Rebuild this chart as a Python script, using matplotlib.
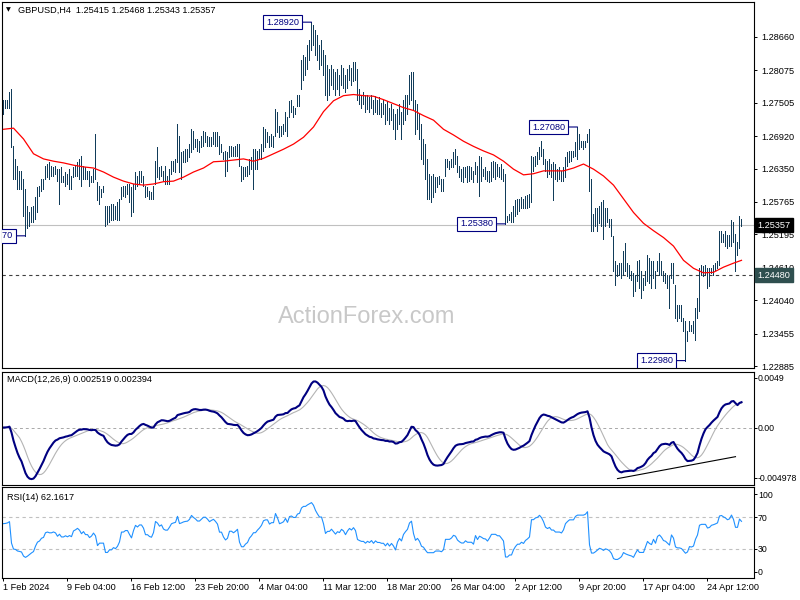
import numpy as np
import pandas as pd
import matplotlib
matplotlib.use("Agg")
import matplotlib.pyplot as plt
from matplotlib.transforms import blended_transform_factory

# ---------------- data (GBPUSD H4) ----------------
highs = [
    1.2756, 1.2756, 1.2756, 1.2769, 1.2774, 1.2674, 1.2652, 1.2640, 1.2631, 1.2631,
    1.2617, 1.2600, 1.2570, 1.2559, 1.2568, 1.2570, 1.2586, 1.2603, 1.2605, 1.2617,
    1.2617, 1.2640, 1.2643, 1.2647, 1.2640, 1.2638, 1.2640, 1.2634, 1.2634, 1.2638,
    1.2622, 1.2629, 1.2626, 1.2634, 1.2622, 1.2638, 1.2640, 1.2647, 1.2652, 1.2657,
    1.2640, 1.2638, 1.2631, 1.2631, 1.2622, 1.2634, 1.2695, 1.2612, 1.2605, 1.2600,
    1.2605, 1.2570, 1.2570, 1.2570, 1.2573, 1.2573, 1.2570, 1.2577, 1.2582, 1.2603,
    1.2605, 1.2605, 1.2608, 1.2608, 1.2603, 1.2608, 1.2629, 1.2622, 1.2631, 1.2631,
    1.2622, 1.2605, 1.2603, 1.2596, 1.2594, 1.2605, 1.2648, 1.2673, 1.2638, 1.2640,
    1.2631, 1.2640, 1.2622, 1.2634, 1.2648, 1.2648, 1.2652, 1.2713, 1.2692, 1.2664,
    1.2666, 1.2669, 1.2669, 1.2678, 1.2704, 1.2701, 1.2687, 1.2687, 1.2683, 1.2692,
    1.2701, 1.2699, 1.2692, 1.2690, 1.2690, 1.2699, 1.2699, 1.2699, 1.2692, 1.2678,
    1.2664, 1.2666, 1.2664, 1.2674, 1.2674, 1.2673, 1.2674, 1.2678, 1.2678, 1.2640,
    1.2638, 1.2638, 1.2640, 1.2652, 1.2655, 1.2669, 1.2669, 1.2666, 1.2669, 1.2678,
    1.2708, 1.2704, 1.2699, 1.2692, 1.2695, 1.2692, 1.2739, 1.2735, 1.2709, 1.2709,
    1.2713, 1.2734, 1.2725, 1.2753, 1.2756, 1.2744, 1.2742, 1.2765, 1.2765, 1.2826,
    1.2835, 1.2830, 1.2852, 1.2861, 1.2892, 1.2887, 1.2878, 1.2870, 1.2852, 1.2861,
    1.2843, 1.2835, 1.2817, 1.2809, 1.2817, 1.2809, 1.2805, 1.2809, 1.2800, 1.2817,
    1.2812, 1.2800, 1.2809, 1.2817, 1.2812, 1.2822, 1.2822, 1.2809, 1.2774, 1.2765,
    1.2770, 1.2765, 1.2765, 1.2760, 1.2765, 1.2756, 1.2762, 1.2756, 1.2760, 1.2751,
    1.2756, 1.2748, 1.2753, 1.2742, 1.2748, 1.2739, 1.2730, 1.2739, 1.2748, 1.2735,
    1.2756, 1.2765, 1.2765, 1.2800, 1.2805, 1.2805, 1.2756, 1.2748, 1.2730, 1.2713,
    1.2687, 1.2678, 1.2652, 1.2626,
    1.2622, 1.2626, 1.2620, 1.2620, 1.2622, 1.2617, 1.2617, 1.2652, 1.2652, 1.2648,
    1.2652, 1.2664, 1.2669, 1.2657, 1.2640, 1.2634, 1.2638, 1.2638, 1.2640, 1.2640,
    1.2638, 1.2631, 1.2647, 1.2640, 1.2657, 1.2655, 1.2634, 1.2638, 1.2631, 1.2631,
    1.2647, 1.2648, 1.2647, 1.2643, 1.2638, 1.2643, 1.2634, 1.2626, 1.2552, 1.2556,
    1.2559, 1.2570, 1.2579, 1.2582, 1.2582, 1.2586, 1.2582, 1.2587, 1.2589, 1.2591,
    1.2657, 1.2655, 1.2657, 1.2664, 1.2673, 1.2683, 1.2669, 1.2652, 1.2648, 1.2652,
    1.2643, 1.2647, 1.2643, 1.2634, 1.2638, 1.2631, 1.2638, 1.2655, 1.2664, 1.2666,
    1.2666, 1.2666, 1.2681, 1.2708, 1.2695, 1.2683, 1.2683, 1.2683, 1.2695, 1.2705,
    1.2617, 1.2556, 1.2565, 1.2565, 1.2570, 1.2577, 1.2579, 1.2565, 1.2565, 1.2547,
    1.2547, 1.2516, 1.2472, 1.2465, 1.2469, 1.2469, 1.2490, 1.2504, 1.2469, 1.2465,
    1.2455, 1.2451, 1.2448, 1.2472, 1.2474, 1.2455, 1.2443, 1.2455, 1.2483, 1.2478,
    1.2472, 1.2472, 1.2455, 1.2472, 1.2486, 1.2472, 1.2455, 1.2451, 1.2448, 1.2446,
    1.2469, 1.2469, 1.2431, 1.2396, 1.2396, 1.2396, 1.2373, 1.2368, 1.2350, 1.2368,
    1.2361, 1.2368, 1.2390, 1.2408, 1.2460, 1.2465, 1.2464, 1.2465, 1.2460, 1.2460,
    1.2460, 1.2465, 1.2469, 1.2472, 1.2526, 1.2525, 1.2521, 1.2525, 1.2518, 1.2518,
    1.2544, 1.2542, 1.2521, 1.2507, 1.2551, 1.25468,
]
lows = [
    1.2730, 1.2742, 1.2742, 1.2742, 1.2673, 1.2617, 1.2617, 1.2600, 1.2600, 1.2600,
    1.2552, 1.2517, 1.2530, 1.2535, 1.2542, 1.2542, 1.2547, 1.2559, 1.2587, 1.2596,
    1.2600, 1.2617, 1.2620, 1.2617, 1.2622, 1.2622, 1.2626, 1.2613, 1.2573, 1.2612,
    1.2612, 1.2605, 1.2608, 1.2600, 1.2600, 1.2620, 1.2622, 1.2622, 1.2617, 1.2605,
    1.2617, 1.2617, 1.2617, 1.2605, 1.2612, 1.2612, 1.2617, 1.2579, 1.2573, 1.2586,
    1.2594, 1.2535, 1.2537, 1.2542, 1.2544, 1.2544, 1.2547, 1.2544, 1.2544, 1.2582,
    1.2587, 1.2586, 1.2591, 1.2577, 1.2552, 1.2559, 1.2600, 1.2605, 1.2608, 1.2612,
    1.2605, 1.2586, 1.2587, 1.2582, 1.2582, 1.2582, 1.2608, 1.2620, 1.2617, 1.2622,
    1.2613, 1.2608, 1.2608, 1.2608, 1.2626, 1.2631, 1.2629, 1.2647, 1.2629, 1.2617,
    1.2647, 1.2647, 1.2648, 1.2655, 1.2664, 1.2669, 1.2673, 1.2666, 1.2664, 1.2673,
    1.2674, 1.2681, 1.2674, 1.2674, 1.2674, 1.2678, 1.2674, 1.2674, 1.2661, 1.2664,
    1.2652, 1.2622, 1.2631, 1.2655, 1.2657, 1.2657, 1.2657, 1.2657, 1.2640, 1.2613,
    1.2617, 1.2622, 1.2622, 1.2626, 1.2634, 1.2600, 1.2634, 1.2634, 1.2652, 1.2652,
    1.2666, 1.2673, 1.2681, 1.2673, 1.2674, 1.2673, 1.2692, 1.2699, 1.2690, 1.2692,
    1.2695, 1.2701, 1.2692, 1.2725, 1.2734, 1.2725, 1.2730, 1.2744, 1.2744, 1.2774,
    1.2791, 1.2800, 1.2809, 1.2826, 1.2843, 1.2852, 1.2835, 1.2826, 1.2809, 1.2817,
    1.2800, 1.2765, 1.2756, 1.2765, 1.2782, 1.2774, 1.2765, 1.2774, 1.2765, 1.2782,
    1.2777, 1.2770, 1.2777, 1.2791, 1.2782, 1.2788, 1.2791, 1.2756, 1.2748, 1.2742,
    1.2748, 1.2735, 1.2739, 1.2735, 1.2742, 1.2730, 1.2735, 1.2730, 1.2730, 1.2725,
    1.2730, 1.2713, 1.2721, 1.2713, 1.2721, 1.2704, 1.2687, 1.2704, 1.2713, 1.2687,
    1.2713, 1.2721, 1.2730, 1.2748, 1.2756, 1.2739, 1.2695, 1.2704, 1.2687, 1.2652,
    1.2643, 1.2617, 1.2582, 1.2582,
    1.2577, 1.2586, 1.2594, 1.2603, 1.2608, 1.2596, 1.2596, 1.2622, 1.2638, 1.2634,
    1.2638, 1.2638, 1.2643, 1.2629, 1.2620, 1.2613, 1.2612, 1.2620, 1.2612, 1.2613,
    1.2617, 1.2612, 1.2626, 1.2612, 1.2587, 1.2613, 1.2622, 1.2617, 1.2613, 1.2612,
    1.2613, 1.2620, 1.2617, 1.2622, 1.2620, 1.2617, 1.2613, 1.2538, 1.2542, 1.2544,
    1.2542, 1.2542, 1.2552, 1.2556, 1.2561, 1.2565, 1.2565, 1.2565, 1.2565, 1.2568,
    1.2577, 1.2631, 1.2640, 1.2643, 1.2652, 1.2657, 1.2643, 1.2631, 1.2620, 1.2626,
    1.2620, 1.2579, 1.2617, 1.2613, 1.2617, 1.2613, 1.2613, 1.2620, 1.2640, 1.2647,
    1.2648, 1.2655, 1.2657, 1.2652, 1.2669, 1.2673, 1.2669, 1.2673, 1.2681, 1.2596,
    1.2525, 1.2525, 1.2535, 1.2526, 1.2539, 1.2535, 1.2512, 1.2535, 1.2542, 1.2533,
    1.2516, 1.2455, 1.2431, 1.2446, 1.2448, 1.2443, 1.2448, 1.2455, 1.2446, 1.2443,
    1.2439, 1.2411, 1.2420, 1.2438, 1.2425, 1.2408, 1.2422, 1.2431, 1.2438, 1.2434,
    1.2425, 1.2443, 1.2425, 1.2455, 1.2448, 1.2448, 1.2438, 1.2434, 1.2425, 1.2390,
    1.2443, 1.2434, 1.2373, 1.2368, 1.2373, 1.2368, 1.2350, 1.2298, 1.2333, 1.2350,
    1.2350, 1.2347, 1.2335, 1.2373, 1.2385, 1.2448, 1.2446, 1.2448, 1.2425, 1.2429,
    1.2451, 1.2448, 1.2457, 1.2460, 1.2465, 1.2507, 1.2507, 1.2500, 1.2495, 1.2499,
    1.2500, 1.2507, 1.2455, 1.2483, 1.2495, 1.25343,
]
closes = [
    1.2748, 1.2749, 1.2751, 1.2756, 1.2678, 1.2634, 1.2631, 1.2617, 1.2613, 1.2608,
    1.2565, 1.2547, 1.2551, 1.2556, 1.2561, 1.2565, 1.2582, 1.2596, 1.2600, 1.2610,
    1.2613, 1.2631, 1.2634, 1.2631, 1.2631, 1.2634, 1.2631, 1.2620, 1.2626, 1.2617,
    1.2617, 1.2620, 1.2617, 1.2620, 1.2617, 1.2631, 1.2634, 1.2638, 1.2634, 1.2626,
    1.2631, 1.2624, 1.2624, 1.2617, 1.2620, 1.2626, 1.2620, 1.2591, 1.2596, 1.2596,
    1.2596, 1.2556, 1.2556, 1.2561, 1.2561, 1.2565, 1.2561, 1.2565, 1.2573, 1.2596,
    1.2596, 1.2600, 1.2600, 1.2591, 1.2582, 1.2600, 1.2617, 1.2613, 1.2620, 1.2620,
    1.2613, 1.2596, 1.2596, 1.2591, 1.2589, 1.2600, 1.2638, 1.2634, 1.2626, 1.2631,
    1.2620, 1.2617, 1.2617, 1.2626, 1.2638, 1.2641, 1.2643, 1.2669, 1.2652, 1.2655,
    1.2659, 1.2661, 1.2662, 1.2669, 1.2687, 1.2683, 1.2680, 1.2676, 1.2676, 1.2683,
    1.2690, 1.2690, 1.2687, 1.2683, 1.2687, 1.2690, 1.2687, 1.2683, 1.2669, 1.2669,
    1.2659, 1.2652, 1.2655, 1.2669, 1.2669, 1.2666, 1.2669, 1.2673, 1.2643, 1.2626,
    1.2626, 1.2631, 1.2634, 1.2643, 1.2648, 1.2655, 1.2655, 1.2661, 1.2666, 1.2673,
    1.2687, 1.2690, 1.2690, 1.2683, 1.2687, 1.2687, 1.2721, 1.2713, 1.2701, 1.2704,
    1.2708, 1.2721, 1.2713, 1.2739, 1.2742, 1.2739, 1.2739, 1.2756, 1.2760, 1.2800,
    1.2817, 1.2817, 1.2835, 1.2852, 1.2870, 1.2864, 1.2852, 1.2843, 1.2835, 1.2835,
    1.2817, 1.2782, 1.2791, 1.2791, 1.2800, 1.2791, 1.2782, 1.2791, 1.2788, 1.2800,
    1.2795, 1.2782, 1.2795, 1.2805, 1.2800, 1.2809, 1.2800, 1.2765, 1.2760, 1.2756,
    1.2756, 1.2748, 1.2753, 1.2748, 1.2753, 1.2742, 1.2748, 1.2742, 1.2742, 1.2739,
    1.2739, 1.2730, 1.2735, 1.2725, 1.2730, 1.2721, 1.2704, 1.2721, 1.2730, 1.2721,
    1.2739, 1.2748, 1.2756, 1.2782, 1.2791, 1.2748, 1.2713, 1.2721, 1.2704, 1.2669,
    1.2661, 1.2634, 1.2608, 1.2608,
    1.2608, 1.2608, 1.2613, 1.2613, 1.2613, 1.2608, 1.2613, 1.2643, 1.2643, 1.2643,
    1.2647, 1.2655, 1.2652, 1.2638, 1.2631, 1.2626, 1.2626, 1.2631, 1.2626, 1.2626,
    1.2626, 1.2620, 1.2638, 1.2626, 1.2634, 1.2631, 1.2627, 1.2626, 1.2620, 1.2626,
    1.2634, 1.2634, 1.2634, 1.2631, 1.2631, 1.2626, 1.2620, 1.2547, 1.2547, 1.2551,
    1.2551, 1.2561, 1.2568, 1.2573, 1.2573, 1.2577, 1.2573, 1.2579, 1.2582, 1.2586,
    1.2643, 1.2643, 1.2652, 1.2655, 1.2666, 1.2661, 1.2652, 1.2638, 1.2634, 1.2638,
    1.2631, 1.2631, 1.2626, 1.2626, 1.2626, 1.2624, 1.2631, 1.2648, 1.2655, 1.2661,
    1.2661, 1.2661, 1.2673, 1.2678, 1.2678, 1.2678, 1.2678, 1.2681, 1.2690, 1.2608,
    1.2547, 1.2547, 1.2551, 1.2556, 1.2561, 1.2556, 1.2547, 1.2551, 1.2547, 1.2539,
    1.2521, 1.2469, 1.2457, 1.2457, 1.2460, 1.2464, 1.2474, 1.2464, 1.2457, 1.2451,
    1.2446, 1.2434, 1.2443, 1.2451, 1.2434, 1.2434, 1.2434, 1.2446, 1.2460, 1.2451,
    1.2446, 1.2460, 1.2443, 1.2464, 1.2469, 1.2460, 1.2446, 1.2443, 1.2434, 1.2425,
    1.2457, 1.2443, 1.2390, 1.2382, 1.2382, 1.2377, 1.2359, 1.2338, 1.2342, 1.2359,
    1.2356, 1.2359, 1.2382, 1.2399, 1.2451, 1.2457, 1.2457, 1.2457, 1.2443, 1.2446,
    1.2457, 1.2460, 1.2464, 1.2469, 1.2512, 1.2516, 1.2512, 1.2509, 1.2504, 1.2509,
    1.2533, 1.2521, 1.2495, 1.2495, 1.2544, 1.25357,
]

# red moving average, read every 5 bars
ma_index = list(range(0, 370, 5)) + [369]
ma_values = [
    1.2704, 1.2706, 1.2687, 1.2661, 1.2652, 1.2648, 1.2645, 1.2641, 1.2638, 1.2636,
    1.2629, 1.2620, 1.2613, 1.2608, 1.2606, 1.2608, 1.2612, 1.2613, 1.2620, 1.2629,
    1.2636, 1.2647, 1.2648, 1.2650, 1.2652, 1.2648, 1.2653, 1.2661, 1.2669, 1.2678,
    1.2690, 1.2708, 1.2735, 1.2754, 1.2763, 1.2765, 1.2763, 1.2762, 1.2756, 1.2749,
    1.2742, 1.2737, 1.2728, 1.2720, 1.2704, 1.2694, 1.2683, 1.2674, 1.2666, 1.2659,
    1.2648, 1.2634, 1.2624, 1.2626, 1.2631, 1.2631, 1.2631, 1.2636, 1.2643, 1.2634,
    1.2622, 1.2606, 1.2582, 1.2558, 1.2539, 1.2526, 1.2514, 1.2499, 1.2474, 1.2460,
    1.2452, 1.2453, 1.2462, 1.2469, 1.2474,
]

date_index = [0, 32, 64, 96, 128, 160, 192, 224, 256, 288, 320, 352]
date_labels = ["1 Feb 2024", "9 Feb 04:00", "16 Feb 12:00", "23 Feb 20:00",
               "4 Mar 04:00", "11 Mar 12:00", "18 Mar 20:00", "26 Mar 04:00",
               "2 Apr 12:00", "9 Apr 20:00", "17 Apr 04:00", "24 Apr 12:00"]
price_ticks = [1.28660, 1.28075, 1.27505, 1.26920, 1.26350, 1.25765,
               1.25195, 1.24610, 1.24040, 1.23455, 1.22885]
macd_ticks = [0.0049, 0.0, -0.004978]
macd_tick_labels = ["0.0049", "0.00", "-0.004978"]
rsi_ticks = [100, 70, 30, 0]

swing_bars = [11, 154, 251, 287, 341]
swing_prices = [1.25170, 1.28920, 1.25380, 1.27080, 1.22980]

last_price = 1.25357
support_level = 1.24480
trend_bars = [307, 366]
trend_macd = [-0.00505, -0.00288]
rsi_start = 62.0

title_text = "GBPUSD,H4  1.25415 1.25468 1.25343 1.25357"
macd_text = "MACD(12,26,9) 0.002519 0.002394"
rsi_text = "RSI(14) 62.1617"

# ---------------- indicators ----------------
c = pd.Series(closes)
macd = c.ewm(span=12, adjust=False).mean() - c.ewm(span=26, adjust=False).mean()
signal = macd.rolling(9, min_periods=1).mean()

d = np.diff(np.array(closes))
scale = np.mean(np.abs(d))
ag = scale * rsi_start / 100
al = scale * (1 - rsi_start / 100)
rsi = [rsi_start]
for dv in d:
    ag = (ag * 13 + max(dv, 0)) / 14
    al = (al * 13 + max(-dv, 0)) / 14
    rsi.append(100 * ag / (ag + al))

# ---------------- figure ----------------
W, H = 800, 600
FS = 6.6
FONT = 'Liberation Sans'
plt.rcParams['font.family'] = [FONT, 'DejaVu Sans']
fig = plt.figure(figsize=(8, 6), dpi=100)
fig.patch.set_facecolor('white')


def axes_px(x0, y0, x1, y1):
    return fig.add_axes([x0 / W, 1 - y1 / H, (x1 - x0) / W, (y1 - y0) / H])


ax = axes_px(2, 2, 754, 368)
axm = axes_px(2, 372, 754, 485)
axr = axes_px(2, 487, 754, 578)

n = len(closes)
x = np.arange(n)
BAR = '#113C5A'
NAVY = '#000080'
XLIM = (-0.75, 375.25)

for a in (ax, axm, axr):
    a.set_xlim(*XLIM)
    for s in a.spines.values():
        s.set_linewidth(0.8)
        s.set_color('black')
    a.yaxis.tick_right()
    a.tick_params(axis='y', direction='out', length=2.2, width=0.7, pad=2.8,
                  labelsize=FS, colors='black')
    a.tick_params(axis='x', bottom=False, labelbottom=False)
for a in (axm, axr):
    a.tick_params(axis='y', pad=0.6, labelsize=6.3)

# main panel
ax.set_ylim(1.22850, 1.29274)
ax.axhline(last_price, color='#C0C0C0', lw=0.8, zorder=1)
ax.axhline(support_level, color='#404040', lw=0.8, ls=(0, (3, 3)), zorder=1)
ax.vlines(x, lows, highs, color=BAR, lw=0.5, antialiased=False, zorder=2)
ax.plot(ma_index, ma_values, color='#FF0000', lw=0.9, zorder=3)
ax.set_yticks(price_ticks)
ax.set_yticklabels([f"{v:.5f}" for v in price_ticks])

for b, p in zip(swing_bars, swing_prices):
    ann = ax.annotate(f"{p:.5f}", xy=(b, p), xytext=(-9.0, 0), textcoords='offset points',
                      ha='right', va='center', fontsize=FS, color=NAVY,
                      bbox=dict(boxstyle='square,pad=0.3', fc='white', ec=NAVY, lw=0.8),
                      arrowprops=dict(arrowstyle='-', color=NAVY, lw=0.8,
                                      shrinkA=0, shrinkB=0, relpos=(1, 0.5)),
                      zorder=5, annotation_clip=False)
    ann.set_clip_on(True)
    ann.set_clip_path(ax.patch)

trans = blended_transform_factory(ax.transAxes, ax.transData)
ax.annotate(f"{last_price:.5f}", xy=(1, last_price), xycoords=trans, xytext=(2.6, 0),
            textcoords='offset points', ha='left', va='center', fontsize=FS, color='white',
            bbox=dict(boxstyle='square,pad=0.3', fc='black', ec='black'),
            annotation_clip=False, zorder=6)
ax.annotate(f"{support_level:.5f}", xy=(1, support_level), xycoords=trans, xytext=(2.6, 0),
            textcoords='offset points', ha='left', va='center', fontsize=FS, color='white',
            bbox=dict(boxstyle='square,pad=0.3', fc='#2F4F4F', ec='#2F4F4F'),
            annotation_clip=False, zorder=6)

# MACD panel
axm.set_ylim(-0.00568, 0.00549)
axm.axhline(0, color='#A8A8A8', lw=0.7, ls=(0, (3, 3)))
axm.plot(x, signal, color='#B4B4B4', lw=0.8)
axm.plot(x, macd, color=NAVY, lw=1.5)
axm.plot(trend_bars, trend_macd, color='black', lw=0.8)
axm.set_yticks(macd_ticks)
axm.set_yticklabels(macd_tick_labels)

# RSI panel
axr.set_ylim(-7.7, 109)
for lv in (70, 30):
    axr.axhline(lv, color='#C0C0C0', lw=0.8, ls=(0, (3, 3)))
axr.plot(x, rsi, color='#1E90FF', lw=0.8)
axr.set_yticks(rsi_ticks)
axr.set_yticklabels([str(v) for v in rsi_ticks])
axr.tick_params(axis='x', bottom=True, labelbottom=True, direction='out', length=2.5,
                width=0.7, pad=1.0, labelsize=FS)
axr.set_xticks(date_index)
axr.set_xticklabels(date_labels, ha='left')

# texts
fig.text(6 / W, 1 - 10 / H, "\u25BC", fontsize=4.5, color='black', va='center', ha='left',
         family='DejaVu Sans')
fig.text(18 / W, 1 - 10 / H, title_text, fontsize=FS, color='black', va='center', ha='left')
fig.text(7 / W, 1 - 380 / H, macd_text, fontsize=FS, color='black', va='center', ha='left')
fig.text(7 / W, 1 - 497 / H, rsi_text, fontsize=FS, color='black', va='center', ha='left')
fig.text(367 / W, 1 - 317 / H, "ActionForex.com", fontsize=17, color='#C8C8C8',
         family='Liberation Sans', ha='center', va='center', zorder=0)

fig.savefig("out.png", dpi=100)
